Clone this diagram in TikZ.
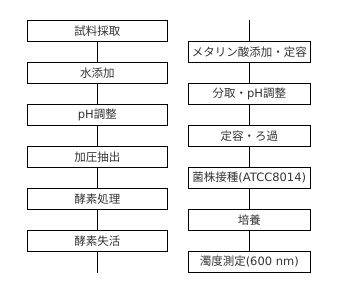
\documentclass[tikz,border=0pt]{standalone}
\usepackage{fontspec}
\newfontfamily\jp{Noto Sans CJK JP}
\newfontfamily\lat{DejaVu Sans}
\begin{document}
\begin{tikzpicture}[x=1pt,y=-1pt,
  stepbox/.style={draw=black,line width=0.9pt,minimum height=21pt,inner sep=0pt,font=\jp\fontsize{11.5}{12}\selectfont,text=black!80},
  lbox/.style={stepbox,minimum width=140pt},
  rbox/.style={stepbox,minimum width=122pt},
  conn/.style={draw=black,line width=0.9pt}]
\useasboundingbox (0,0) rectangle (341,303);
\node[lbox] (l1) at (97.3,30.8) {試料採取};
\node[lbox] (l2) at (97.3,72.8) {水添加};
\node[lbox] (l3) at (97.3,114.8) {{\lat pH}調整};
\node[lbox] (l4) at (97.3,156.8) {加圧抽出};
\node[lbox] (l5) at (97.3,198.8) {酵素処理};
\node[lbox] (l6) at (97.3,240.8) {酵素失活};
\coordinate (lend) at (97.3,272.7);
\coordinate (rstart) at (249.3,20.3);
\node[rbox] (r1) at (249.3,51.8) {メタリン酸添加・定容};
\node[rbox] (r2) at (249.3,93.8) {分取・{\lat pH}調整};
\node[rbox] (r3) at (249.3,135.8) {定容・ろ過};
\node[rbox] (r4) at (249.3,177.8) {菌株接種{\lat (ATCC8014)}};
\node[rbox] (r5) at (249.3,219.8) {培養};
\node[rbox] (r6) at (249.3,261.8) {濁度測定{\lat (600 nm)}};
\draw[conn] (l1) -- (l2);
\draw[conn] (l2) -- (l3);
\draw[conn] (l3) -- (l4);
\draw[conn] (l4) -- (l5);
\draw[conn] (l5) -- (l6);
\draw[conn] (l6) -- (lend);
\draw[conn] (rstart) -- (r1);
\draw[conn] (r1) -- (r2);
\draw[conn] (r2) -- (r3);
\draw[conn] (r3) -- (r4);
\draw[conn] (r4) -- (r5);
\draw[conn] (r5) -- (r6);
\end{tikzpicture}
\end{document}
